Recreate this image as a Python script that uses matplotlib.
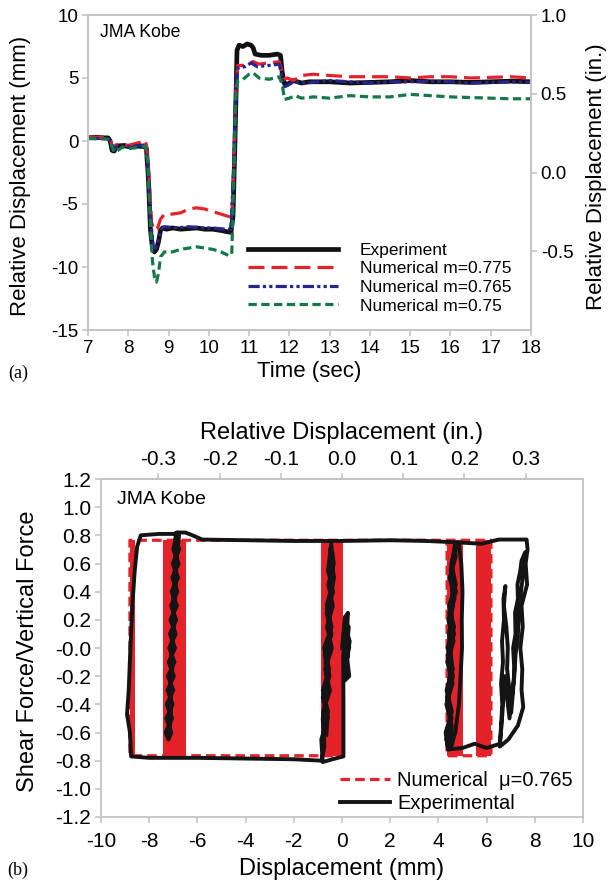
import numpy as np
import matplotlib.pyplot as plt
from matplotlib.ticker import FormatStrFormatter

plt.rcParams['font.family'] = ['Liberation Sans', 'DejaVu Sans']
plt.rcParams['axes.unicode_minus'] = False

# ---- (a) displacement time histories, JMA Kobe ----
t_exp = [7.00, 7.20, 7.40, 7.50, 7.55, 7.60, 7.65, 7.70, 7.90, 8.00, 8.20, 8.40, 8.45,
         8.50, 8.55, 8.60, 8.65, 8.70, 8.75, 8.80, 8.85, 8.95, 9.10, 9.30, 9.50, 9.70,
         9.90, 10.10, 10.30, 10.45, 10.55, 10.60, 10.65, 10.70, 10.75, 10.85, 10.95,
         11.05, 11.10, 11.15, 11.30, 11.50, 11.70, 11.78, 11.82, 11.87, 11.95, 12.10,
         12.30, 12.50, 13.0, 13.5, 14.0, 14.5, 15.0, 15.5, 16.0, 16.5, 17.0, 17.5, 18.0]
d_exp = [0.25, 0.30, 0.25, 0.25, 0.0, -0.75, -0.8, -0.4, -0.35, -0.45, -0.40, -0.45, -0.6,
         -3.0, -7.0, -8.5, -8.8, -8.6, -8.0, -7.1, -6.9, -7.0, -6.9, -7.0, -6.95, -6.9,
         -7.0, -7.0, -7.1, -7.2, -7.25, -6.0, 0.0, 7.2, 7.6, 7.5, 7.7,
         7.6, 7.4, 6.9, 6.8, 6.8, 6.9, 6.8, 5.5, 4.6, 4.5, 4.8,
         4.6, 4.7, 4.7, 4.6, 4.65, 4.7, 4.8, 4.7, 4.7, 4.65, 4.7, 4.75, 4.7]

t_775 = [7.00, 7.40, 7.55, 7.62, 7.70, 8.00, 8.30, 8.40, 8.45, 8.52, 8.58, 8.65, 8.72,
         8.80, 8.90, 9.10, 9.30, 9.50, 9.70, 9.90, 10.10, 10.30, 10.50, 10.57, 10.62,
         10.67, 10.72, 10.85, 11.00, 11.10, 11.25, 11.50, 11.75, 11.82, 11.87, 11.95,
         12.10, 12.30, 12.60, 13.0, 13.5, 14.0, 14.5, 15.0, 15.5, 16.0, 16.5, 17.0, 17.5, 18.0]
d_775 = [0.3, 0.3, 0.1, -0.6, -0.3, -0.35, -0.1, 0.1, -0.3, -3.0, -6.5, -7.1, -7.0,
         -6.2, -5.8, -5.8, -5.7, -5.4, -5.3, -5.4, -5.6, -5.8, -6.0, -6.1, -2.0,
         4.0, 6.0, 6.0, 6.2, 6.3, 6.1, 6.2, 6.3, 5.5, 4.9, 5.0,
         4.8, 5.2, 5.3, 5.2, 5.1, 5.1, 5.1, 5.0, 5.1, 5.1, 5.0, 5.05, 5.1, 5.0]

t_765 = [7.00, 7.50, 7.58, 7.65, 7.72, 8.00, 8.30, 8.42, 8.48, 8.55, 8.62, 8.68, 8.75,
         8.82, 8.90, 9.20, 9.50, 9.80, 10.10, 10.40, 10.55, 10.62, 10.67, 10.72, 10.90,
         11.05, 11.20, 11.50, 11.75, 11.82, 11.87, 11.95, 12.10, 12.40, 13.0, 13.5, 14.0,
         14.5, 15.0, 15.5, 16.0, 16.5, 17.0, 17.5, 18.0]
d_765 = [0.2, 0.2, -0.2, -0.7, -0.4, -0.45, -0.35, -0.3, -1.5, -6.0, -8.4, -8.5, -7.8,
         -7.0, -6.8, -6.9, -6.8, -6.9, -6.9, -7.0, -7.0, -2.0, 4.5, 5.8, 5.9,
         6.2, 5.9, 6.0, 6.1, 5.0, 4.3, 4.4, 4.7, 4.6, 4.8, 4.7, 4.6,
         4.7, 4.7, 4.75, 4.7, 4.6, 4.65, 4.7, 4.65]

t_750 = [7.00, 7.50, 7.58, 7.65, 7.72, 7.85, 8.00, 8.30, 8.42, 8.48, 8.55, 8.60, 8.65,
         8.70, 8.75, 8.80, 8.90, 9.10, 9.30, 9.50, 9.70, 9.90, 10.10, 10.30, 10.50, 10.57,
         10.62, 10.67, 10.72, 10.85, 11.00, 11.10, 11.25, 11.50, 11.75, 11.82, 11.88,
         12.00, 12.15, 12.30, 12.60, 13.0, 13.5, 14.0, 14.5, 15.0, 15.5, 16.0, 16.5,
         17.0, 17.5, 18.0]
d_750 = [0.2, 0.15, -0.3, -0.9, -0.8, -0.5, -0.6, -0.5, -0.4, -1.5, -6.5, -9.5, -10.8,
         -11.2, -10.5, -9.2, -8.8, -8.8, -8.6, -8.5, -8.4, -8.5, -8.6, -8.8, -9.1, -9.0,
         -3.0, 3.5, 4.8, 4.9, 5.3, 5.4, 5.0, 4.9, 5.1, 4.5, 3.3,
         3.4, 3.6, 3.4, 3.5, 3.4, 3.6, 3.5, 3.5, 3.7, 3.6, 3.5, 3.45,
         3.4, 3.35, 3.35]

# ---- (b) hysteresis loops ----
# experimental trace, in time order
exp_x = [
    # sticking near the origin
    0.0, 0.12, 0.25, 0.2, 0.32, 0.22, 0.3, 0.12, 0.18, 0.08, 0.28, 0.15, 0.25,
    0.1, 0.3, 0.2, 0.05,
    0.06, 0.06, -0.4, -0.8,
    -0.86, -0.6, -0.8, -0.52, -0.72, -0.44, -0.64, -0.37, -0.58, -0.45,
    -0.34, -0.57, -0.38, -0.62, -0.42, -0.7, -0.5, -0.78, -0.65,
    -0.58, -0.8, -0.53, -0.74, -0.43, -0.64, -0.4, -0.5,
    -0.33, -0.55, -0.46, -0.69, -0.58, -0.8, -0.73, -0.85,
    # slide to the left
    -2.0, -4.0, -6.0, -8.0, -8.75,
    -8.8, -8.92, -8.85, -8.78, -8.7, -8.6, -8.5, -8.35,
    -7.6, -7.0, -6.8,
    # sticking near -7 mm
    -6.85, -7.0, -6.78, -7.04, -6.83, -7.09, -6.88, -7.14, -6.93, -7.19, -6.98, -7.24,
    -7.03, -7.29, -7.08, -7.2,
    -7.32, -7.05, -7.27, -7.0, -7.22, -6.95, -7.17, -6.9, -7.12, -6.85, -7.07, -6.8,
    -7.02, -6.76, -6.9,
    -6.93, -6.97, -7.02, -7.0, -7.08, -7.06, -7.14, -7.12, -7.18,
    -7.1, -7.12, -7.04, -7.06, -6.98, -6.98, -6.9, -6.88, -6.75,
    # slide to the right
    -6.5, -6.2, -5.8, -4.0, -2.0, 0.0, 2.0, 3.5, 4.8, 5.8, 6.5, 7.66,
    7.7, 7.62, 7.68, 7.45, 7.5, 7.4, 7.48, 7.45, 7.52, 7.3, 6.9, 6.55,
    # sticking near 6.8 mm
    6.6, 6.65, 6.6, 6.68, 6.64, 6.72, 6.7, 6.78, 6.72, 6.82, 6.88, 6.85, 6.95, 6.92,
    7.02, 7.1, 7.15, 7.1, 7.2, 7.18, 7.3, 7.28, 7.4, 7.45, 7.6,
    7.5, 7.35, 7.3, 7.2, 7.15, 7.05, 6.95, 6.85, 6.75, 6.68, 6.62, 6.55,
    # slide back to the left
    6.0, 5.5, 5.0, 4.4,
    # sticking near 4.6 mm
    4.3, 4.56, 4.34, 4.6, 4.38, 4.65, 4.44, 4.72, 4.54, 4.75,
    4.85, 4.95, 5.0, 4.97, 4.98, 4.92, 4.85, 4.7, 4.5,
    4.55, 4.33, 4.59, 4.37, 4.63, 4.41, 4.67, 4.47, 4.72, 4.68,
    4.51, 4.73, 4.45, 4.65, 4.39, 4.61, 4.35, 4.55, 4.33, 4.42,
    4.5, 4.38, 4.55, 4.44, 4.6, 4.55]
exp_y = [
    0.0, 0.22, 0.25, 0.1, 0.05, -0.08, -0.2, -0.23, 0.0, 0.15, 0.15, -0.12, -0.05,
    0.05, 0.0, 0.2, -0.05,
    -0.4, -0.77, -0.79, -0.81,
    -0.65, -0.5, -0.35, -0.2, -0.05, 0.1, 0.25, 0.4, 0.55, 0.74,
    0.6, 0.45, 0.3, 0.15, 0.0, -0.15, -0.3, -0.45, -0.62,
    -0.45, -0.3, -0.15, 0.0, 0.15, 0.3, 0.45, 0.7,
    0.5, 0.3, 0.1, -0.1, -0.3, -0.5, -0.7, -0.8,
    -0.79, -0.785, -0.78, -0.78, -0.77,
    -0.6, -0.47, -0.3, 0.0, 0.3, 0.55, 0.72, 0.8,
    0.81, 0.81, 0.82,
    0.82, 0.7, 0.6, 0.5, 0.4, 0.3, 0.2, 0.1, 0.0, -0.1, -0.2, -0.3,
    -0.4, -0.5, -0.6, -0.65,
    -0.6, -0.5, -0.4, -0.3, -0.2, -0.1, 0.0, 0.1, 0.2, 0.3, 0.4, 0.5,
    0.6, 0.7, 0.8,
    0.6, 0.45, 0.3, 0.15, 0.0, -0.15, -0.3, -0.45, -0.62,
    -0.45, -0.3, -0.15, 0.0, 0.15, 0.3, 0.45, 0.6, 0.82,
    0.82, 0.8, 0.77, 0.765, 0.76, 0.76, 0.765, 0.76, 0.75, 0.74, 0.77, 0.77,
    0.7, 0.6, 0.45, 0.3, 0.15, 0.0, -0.15, -0.3, -0.42, -0.55, -0.65, -0.7,
    -0.55, -0.4, -0.25, -0.1, 0.05, 0.2, 0.35, 0.44, 0.3, 0.15, 0.0, -0.15, -0.3, -0.42,
    -0.46, -0.3, -0.15, 0.0, 0.1, 0.25, 0.35, 0.45, 0.55, 0.62, 0.68,
    0.5, 0.3, 0.1, -0.05, -0.2, -0.35, -0.5, -0.35, -0.2, -0.4, -0.55, -0.68,
    -0.71, -0.68, -0.71, -0.72,
    -0.6, -0.45, -0.3, -0.15, 0.0, 0.15, 0.3, 0.45, 0.6, 0.72,
    0.74, 0.6, 0.4, 0.2, 0.0, -0.2, -0.4, -0.6, -0.72,
    -0.55, -0.4, -0.25, -0.1, 0.05, 0.2, 0.35, 0.5, 0.65, 0.73,
    0.55, 0.4, 0.25, 0.1, -0.05, -0.2, -0.35, -0.5, -0.65, -0.72,
    -0.5, -0.3, -0.1, 0.1, 0.3, 0.5]

mu = 0.765
num_x = [0.0, 0.04, -8.8, -8.8, 6.18, 6.18, 4.36, 4.36]
num_y = [0.0, -mu, -mu, mu, mu, -mu, -mu, mu]
# stick-slip zones where the numerical loop reverses repeatedly
band_lo = [-8.8, -7.43, -0.87, 4.36, 5.56]
band_hi = [-8.6, -6.47, 0.04, 5.02, 6.18]

grey = '#c4c4c4'


def style_axes(ax, size):
    for s in ax.spines.values():
        s.set_color(grey)
        s.set_linewidth(1.3)
    ax.tick_params(direction='out', length=4, width=1.2, color=grey,
                   labelsize=size, pad=3)


fig = plt.figure(figsize=(6.1, 8.82), dpi=100)

# top panel
ax1 = fig.add_axes([88 / 610, 1 - 330 / 882, 443 / 610, 315 / 882])
ax1.plot(t_exp, d_exp, color='#111111', lw=3.4, label='Experiment',
         solid_joinstyle='round')
ax1.plot(t_775, d_775, color='#e4222a', lw=2.3, dashes=(5, 2.2),
         label='Numerical m=0.775')
ax1.plot(t_765, d_765, color='#26248f', lw=2.3, dashes=(3.5, 1, 1, 1, 1, 1),
         label='Numerical m=0.765')
ax1.plot(t_750, d_750, color='#14784a', lw=2.3, dashes=(2.6, 1.4),
         label='Numerical m=0.75')
ax1.set_xlim(7, 18)
ax1.set_ylim(-15, 10)
ax1.set_xticks(range(7, 19))
ax1.set_yticks([-15, -10, -5, 0, 5, 10])
style_axes(ax1, 13.5)
ax1.tick_params(top=False, right=False)
ax1.set_xlabel('Time (sec)', fontsize=16, va='center')
ax1.xaxis.set_label_coords(0.5, -0.133)
ax1.set_ylabel('Relative Displacement (mm)', fontsize=16, va='center')
ax1.yaxis.set_label_coords(-0.152, 0.49)
ax1.text(0.027, 0.943, 'JMA Kobe', transform=ax1.transAxes, fontsize=12.7,
         va='center', ha='left')
ax1.legend(loc='center left', bbox_to_anchor=(0.361, 0.165), frameon=False,
           fontsize=12.5, handlelength=5.2, handletextpad=1.25, labelspacing=0.2,
           borderpad=0, borderaxespad=0)

ax1r = ax1.twinx()
ax1r.set_ylim(-1.0, 1.0)
ax1r.set_yticks([-0.5, 0.0, 0.5, 1.0])
ax1r.yaxis.set_major_formatter(FormatStrFormatter('%.1f'))
style_axes(ax1r, 13.5)
ax1r.set_ylabel('Relative Displacement (in.)', fontsize=16, rotation=90,
                va='center')
ax1r.yaxis.set_label_coords(1.147, 0.486)

fig.text(18 / 610, 1 - 373 / 882, '(a)', family='Liberation Serif', fontsize=13,
         va='center', ha='center')

# bottom panel
ax2 = fig.add_axes([101 / 610, 1 - 817 / 882, 482 / 610, 338 / 882])
for lo, hi in zip(band_lo, band_hi):
    ax2.fill_betweenx([-mu, mu], lo, hi, color='#e4222a', lw=0, zorder=1)
ax2.plot(num_x, num_y, color='#e4222a', lw=2.3, dashes=(3, 1.6), zorder=2,
         label='Numerical  \u03bc=0.765')
ax2.plot(exp_x, exp_y, color='#141414', lw=2.8, zorder=3, label='Experimental',
         solid_joinstyle='round')
ax2.set_xlim(-10, 10)
ax2.set_ylim(-1.2, 1.2)
ax2.set_xticks(range(-10, 11, 2))
ax2.set_yticks(np.arange(-1.2, 1.21, 0.2))
ax2.yaxis.set_major_formatter(FormatStrFormatter('%.1f'))
style_axes(ax2, 15)
ax2.tick_params(axis='x', pad=7)
ax2.set_xlabel('Displacement (mm)', fontsize=17, va='center')
ax2.xaxis.set_label_coords(0.5, -0.155)
ax2.set_ylabel('Shear Force/Vertical Force', fontsize=17, va='center')
ax2.yaxis.set_label_coords(-0.152, 0.49)
ax2.text(0.033, 0.938, 'JMA Kobe', transform=ax2.transAxes, fontsize=14,
         va='center', ha='left')
ax2.legend(loc='center left', bbox_to_anchor=(0.496, 0.075), frameon=False,
           fontsize=14.5, handlelength=2.5, handletextpad=0.35, labelspacing=0.19,
           borderpad=0, borderaxespad=0)

sec = ax2.secondary_xaxis('top', functions=(lambda x: x / 25.4, lambda x: x * 25.4))
sec.set_xticks([-0.3, -0.2, -0.1, 0.0, 0.1, 0.2, 0.3])
sec.xaxis.set_major_formatter(FormatStrFormatter('%.1f'))
style_axes(sec, 15)
sec.set_xlabel('Relative Displacement (in.)', fontsize=17, labelpad=8)

fig.text(18 / 610, 1 - 870 / 882, '(b)', family='Liberation Serif', fontsize=13,
         va='center', ha='center')

fig.savefig('out.png', dpi=100)
